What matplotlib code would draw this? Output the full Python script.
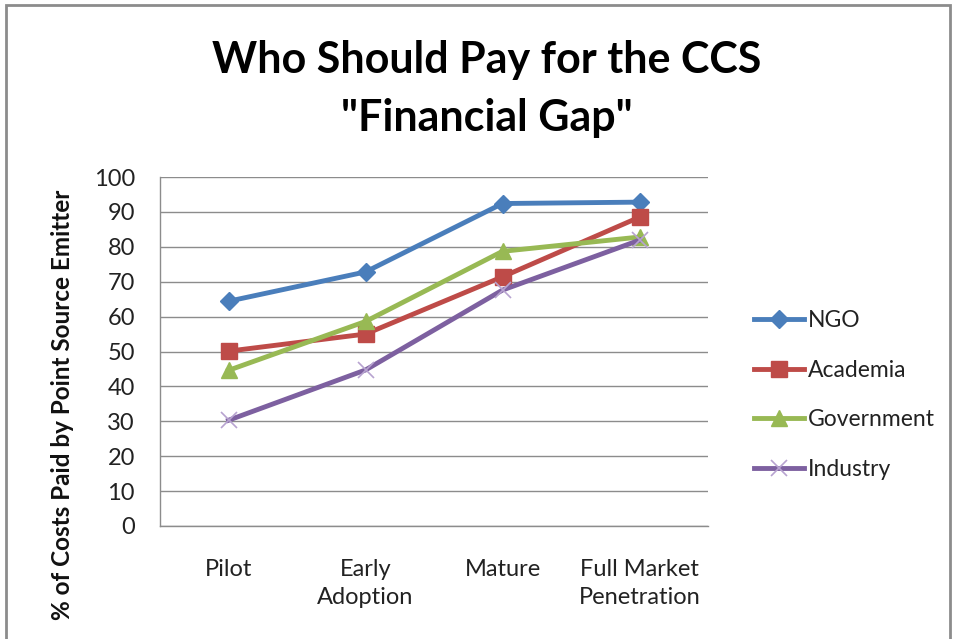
import matplotlib
matplotlib.use("Agg")
import matplotlib.pyplot as plt
from matplotlib.patches import Rectangle

categories = ["Pilot", "Early\nAdoption", "Mature", "Full Market\nPenetration"]
series_names = ["NGO", "Academia", "Government", "Industry"]
ngo = [64.4, 72.8, 92.4, 92.8]
academia = [50.1, 55.0, 71.4, 88.5]
government = [44.6, 58.6, 78.7, 82.8]
industry = [30.3, 44.7, 67.6, 81.9]
yticks = [0, 10, 20, 30, 40, 50, 60, 70, 80, 90, 100]

colors = ["#4A7EBB", "#BE4B48", "#98B954", "#7D60A0"]
markers = ["D", "s", "^", "x"]
msizes = [9, 11, 11, 11]

plt.rcParams['font.family'] = ['Lato', 'DejaVu Sans']

fig = plt.figure(figsize=(9.55, 6.39), dpi=100)
ax = fig.add_axes([160/955, 1-526/639, 548/955, 349/639])

x = [i + 0.5 for i in range(len(categories))]
for name, vals, c, m, ms in zip(series_names, [ngo, academia, government, industry], colors, markers, msizes):
    kw = dict(markeredgecolor=c, markerfacecolor=c)
    if m == "x":
        kw = dict(markeredgecolor="#B7A3D0", markeredgewidth=1.2)
    ax.plot(x, vals, color=c, linewidth=3.5, marker=m, markersize=ms, label=name, **kw)

ax.set_xlim(0, 4)
ax.set_ylim(0, 100)
ax.set_yticks(yticks)
ax.set_xticks(x)
ax.set_xticklabels(categories, fontsize=17, color="#222222", linespacing=1.4)
ax.tick_params(axis='y', labelsize=17, colors="#222222", length=0, pad=18)
ax.tick_params(axis='x', length=0, pad=24)
ax.grid(axis='y', color="#8C8C8C", linewidth=1.0)
ax.set_axisbelow(True)
for s in ["top", "right"]:
    ax.spines[s].set_visible(False)
for s in ["left", "bottom"]:
    ax.spines[s].set_color("#8C8C8C")
    ax.spines[s].set_linewidth(1.0)

fig.text(62/955, 1-405/639, "% of Costs Paid by Point Source Emitter", rotation=90,
         ha="center", va="center", fontsize=17.5, fontweight="bold", color="#111111")

fig.text(487/955, 1-89/639, "Who Should Pay for the CCS\n\"Financial Gap\"", ha="center", va="center",
         fontsize=31, fontweight="bold", color="black", linespacing=1.55)

leg = ax.legend(loc="center left", bbox_to_anchor=(733/955, 1-395/639), bbox_transform=fig.transFigure,
                frameon=False, fontsize=16.5, handlelength=2.2, handletextpad=0.15, labelspacing=1.25)
for t in leg.get_texts():
    t.set_color("#222222")

fig.patches.append(Rectangle((6/955, -0.1), 944/955, 1.1 - 5/639, transform=fig.transFigure,
                             fill=False, edgecolor="#8C8C8C", linewidth=2))

fig.savefig("out.png", dpi=100)
